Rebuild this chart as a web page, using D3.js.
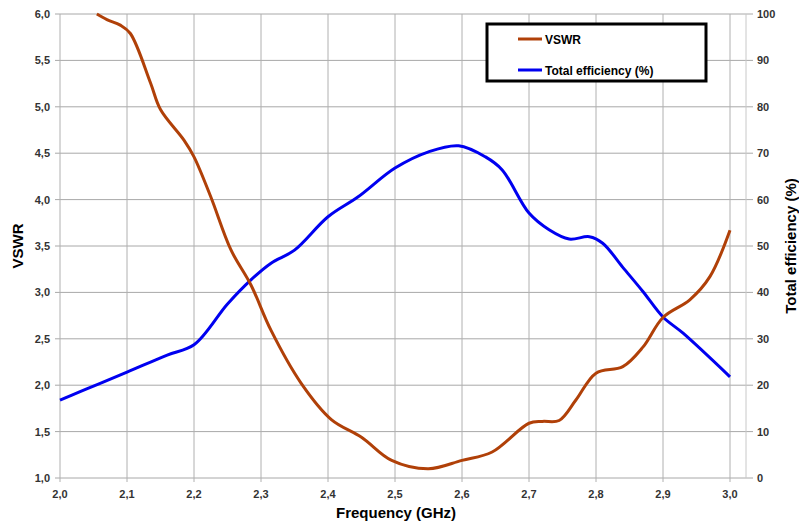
<!DOCTYPE html>
<html>
<head>
<meta charset="utf-8">
<script src="https://cdn.jsdelivr.net/npm/d3@7"></script>
<style>
  body { margin: 0; background: #fff; }
  text { font-family: "Liberation Sans", Arial, sans-serif; }
</style>
</head>
<body>
<script>
// VSWR curve
const vswrFreq = [2.055, 2.07, 2.09, 2.105, 2.135, 2.15, 2.185, 2.2, 2.225, 2.255, 2.285, 2.315, 2.36, 2.405, 2.45, 2.495, 2.55, 2.6, 2.645, 2.7, 2.72, 2.745, 2.77, 2.8, 2.84, 2.87, 2.9, 2.94, 2.97, 3.0];
const vswrVal = [6.0, 5.94, 5.88, 5.79, 5.26, 4.97, 4.64, 4.46, 4.03, 3.46, 3.08, 2.59, 2.02, 1.63, 1.44, 1.19, 1.10, 1.19, 1.28, 1.59, 1.61, 1.62, 1.84, 2.13, 2.2, 2.41, 2.73, 2.92, 3.17, 3.67];

// total efficiency curve (%)
const effFreq = [2.0, 2.03, 2.06, 2.1, 2.16, 2.2, 2.25, 2.285, 2.315, 2.35, 2.4, 2.445, 2.5, 2.55, 2.595, 2.635, 2.66, 2.7, 2.73, 2.76, 2.79, 2.81, 2.84, 2.87, 2.9, 2.93, 3.0];
const effVal = [16.8, 18.6, 20.4, 22.8, 26.5, 28.7, 37.5, 42.7, 46.3, 49.1, 56.3, 60.6, 66.8, 70.3, 71.6, 69.2, 66.4, 57.1, 53.5, 51.5, 52, 50.6, 45.4, 40.2, 34.7, 31.2, 21.8];

const xTicks = [2.0, 2.1, 2.2, 2.3, 2.4, 2.5, 2.6, 2.7, 2.8, 2.9, 3.0];
const yLeftTicks = [1.0, 1.5, 2.0, 2.5, 3.0, 3.5, 4.0, 4.5, 5.0, 5.5, 6.0];
const yRightTicks = [0, 10, 20, 30, 40, 50, 60, 70, 80, 90, 100];

const legendNames = ['VSWR', 'Total efficiency (%)'];
const colors = ['#b04008', '#0000f0'];

const W = 799, H = 524;
const plotL = 60, plotR = 746, plotT = 14, plotB = 478;

const svg = d3.select('body').append('svg').attr('width', W).attr('height', H);

const x = d3.scaleLinear().domain([2.0, 3.0]).range([plotL, 730]);
const yL = d3.scaleLinear().domain([1.0, 6.0]).range([plotB, plotT]);
const yR = d3.scaleLinear().domain([0, 100]).range([plotB, plotT]);
const comma = d => d3.format('.1f')(d).replace('.', ',');

// grid
const grid = svg.append('g');
grid.selectAll('line.h').data(yLeftTicks).join('line')
  .attr('x1', plotL - 5).attr('x2', plotR + 7)
  .attr('y1', d => yL(d)).attr('y2', d => yL(d))
  .style('stroke', '#a8a8a8').style('stroke-width', 1);
grid.selectAll('line.v').data(xTicks).join('line')
  .attr('x1', d => x(d)).attr('x2', d => x(d))
  .attr('y1', plotT).attr('y2', plotB + 4)
  .style('stroke', '#b0b0b0').style('stroke-width', 1);
grid.append('line')
  .attr('x1', plotR).attr('x2', plotR).attr('y1', plotT).attr('y2', plotB)
  .style('stroke', '#c8c8c8').style('stroke-width', 1);

// tick labels
svg.append('g').selectAll('text').data(yLeftTicks).join('text')
  .attr('x', 50).attr('y', d => yL(d) + 4)
  .attr('text-anchor', 'end')
  .style('font-size', '11px').style('font-weight', 'bold').style('fill', '#333')
  .text(comma);
svg.append('g').selectAll('text').data(yRightTicks).join('text')
  .attr('x', 757).attr('y', d => yR(d) + 4)
  .style('font-size', '11px').style('font-weight', 'bold').style('fill', '#333')
  .text(d => d);
svg.append('g').selectAll('text').data(xTicks).join('text')
  .attr('x', d => x(d)).attr('y', plotB + 20)
  .attr('text-anchor', 'middle')
  .style('font-size', '11px').style('font-weight', 'bold').style('fill', '#333')
  .text(comma);

// axis titles
svg.append('text').text('Frequency (GHz)')
  .attr('x', 396).attr('y', 518).attr('text-anchor', 'middle')
  .style('font-size', '15px').style('font-weight', 'bold');
svg.append('text').text('VSWR')
  .attr('transform', 'translate(23,246) rotate(-90)').attr('text-anchor', 'middle')
  .style('font-size', '15px').style('font-weight', 'bold');
svg.append('text').text('Total efficiency (%)')
  .attr('transform', 'translate(796,246) rotate(-90)').attr('text-anchor', 'middle')
  .style('font-size', '15px').style('font-weight', 'bold');

// curves
const vswrLine = d3.line().x(d => x(d[0])).y(d => yL(d[1])).curve(d3.curveCatmullRom.alpha(0.5));
const effLine = d3.line().x(d => x(d[0])).y(d => yR(d[1])).curve(d3.curveCatmullRom.alpha(0.5));

svg.append('path').datum(d3.zip(effFreq, effVal))
  .attr('d', effLine).style('fill', 'none')
  .style('stroke', colors[1]).style('stroke-width', 3);
svg.append('path').datum(d3.zip(vswrFreq, vswrVal))
  .attr('d', vswrLine).style('fill', 'none')
  .style('stroke', colors[0]).style('stroke-width', 3);

// legend
const legend = svg.append('g');
legend.append('rect')
  .attr('x', 487).attr('y', 24).attr('width', 219).attr('height', 57)
  .style('fill', '#fff').style('stroke', '#000').style('stroke-width', 3);
legendNames.forEach((name, i) => {
  const ly = 39 + i * 31;
  legend.append('line')
    .attr('x1', 518).attr('x2', 542).attr('y1', ly).attr('y2', ly)
    .style('stroke', colors[i]).style('stroke-width', 3);
  legend.append('text').text(name)
    .attr('x', 545).attr('y', ly + 5)
    .style('font-size', '12px').style('font-weight', 'bold');
});
</script>
</body>
</html>
